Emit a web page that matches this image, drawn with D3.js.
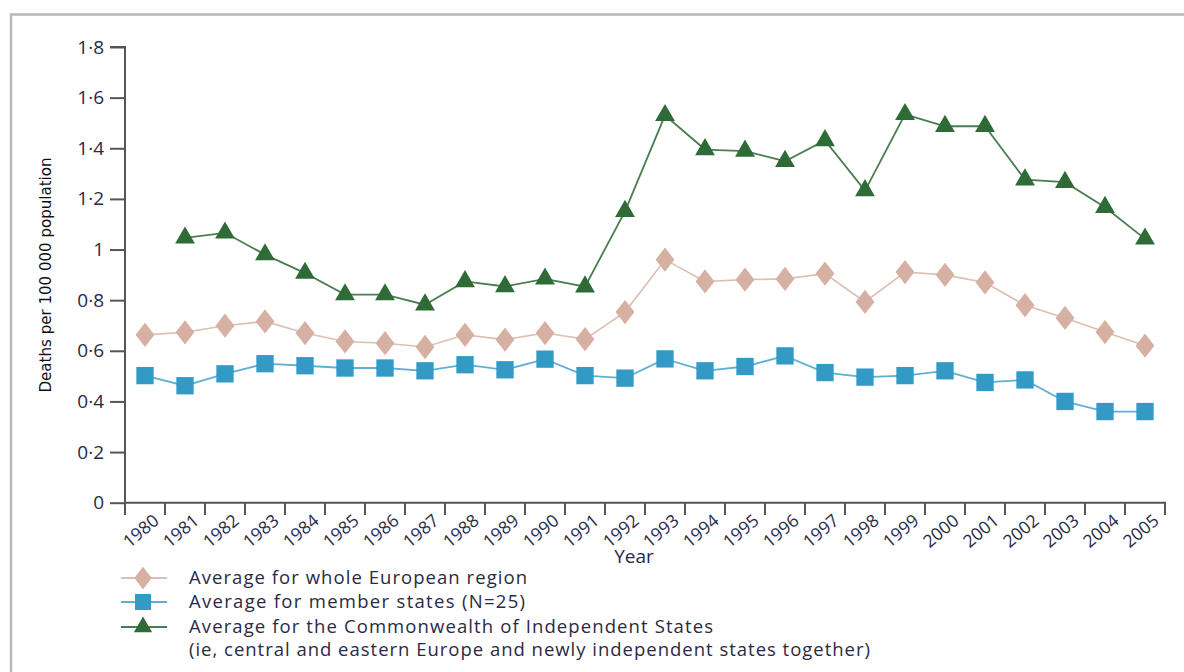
<!DOCTYPE html>
<html><head><meta charset="utf-8">
<script src="https://cdn.jsdelivr.net/npm/d3@7"></script>
<style>
body{margin:0;background:#fff;}
svg{display:block;}
text{font-family:"Open Sans","Noto Sans",sans-serif;}
</style></head>
<body><svg id="c" width="1184" height="672"></svg>
<script>
const years = ["1980","1981","1982","1983","1984","1985","1986","1987","1988","1989","1990","1991","1992","1993","1994","1995","1996","1997","1998","1999","2000","2001","2002","2003","2004","2005"];
const europe = [0.663,0.673,0.699,0.716,0.67,0.637,0.63,0.615,0.663,0.644,0.67,0.646,0.753,0.96,0.874,0.881,0.884,0.905,0.793,0.911,0.90,0.87,0.78,0.73,0.674,0.62];
const member = [0.502,0.462,0.509,0.549,0.541,0.532,0.532,0.521,0.545,0.525,0.567,0.502,0.492,0.568,0.521,0.538,0.58,0.514,0.496,0.502,0.521,0.475,0.485,0.40,0.36,0.36];
const cis = [null,1.046,1.066,0.98,0.907,0.822,0.822,0.782,0.874,0.854,0.884,0.853,1.151,1.53,1.395,1.389,1.349,1.431,1.233,1.534,1.487,1.487,1.276,1.266,1.167,1.042];
const yTicks = [0,0.2,0.4,0.6,0.8,1,1.2,1.4,1.6,1.8];
const legendLabels = ["Average for whole European region","Average for member states  (N=25)","Average for the Commonwealth of Independent States","(ie, central and eastern Europe and newly independent states together)"];

const svg = d3.select("#c");
const x = d3.scaleBand().domain(years).range([125,1165]);
const y = d3.scaleLinear().domain([0,1.8]).range([502.7,47]);
const txt = "#2a2a44";

// frame
svg.append("path").attr("d","M11,672 V14.5 H1184").attr("fill","none").attr("stroke","#b4b8bc").attr("stroke-width",2.5);

const fmt = v => v===0 ? "0" : (v===1 ? "1" : d3.format(".1f")(v).replace(".","\u00b7"));

// y axis
const ya = svg.append("g").attr("transform","translate(125,0)")
  .call(d3.axisLeft(y).tickValues(yTicks).tickSize(15).tickPadding(6).tickFormat(fmt));
ya.attr("font-size",null).attr("font-family",null);
ya.select(".domain").attr("stroke","#555").attr("stroke-width",2).attr("d","M-15,47H0V502.7");
ya.selectAll(".tick line").attr("stroke","#555").attr("stroke-width",2);
ya.selectAll(".tick text").style("font-size","19px").attr("fill",txt);

// x axis
const xa = svg.append("g").attr("transform","translate(0,502.7)")
  .call(d3.axisBottom(x).tickSize(0).tickFormat(""));
xa.select(".domain").attr("stroke","#555").attr("stroke-width",2).attr("d","M125,0H1165V12");
xa.selectAll(".tick").remove();
const bnd = years.map(d=>x(d)).concat([1165]);
svg.append("g").selectAll("line").data(bnd).join("line")
  .attr("x1",d=>d).attr("x2",d=>d).attr("y1",502.7).attr("y2",515)
  .attr("stroke","#555").attr("stroke-width",2);
svg.append("g").selectAll("text").data(years).join("text")
  .attr("transform",d=>`translate(${x(d)+x.bandwidth()/2+7},${513}) rotate(-40)`)
  .attr("text-anchor","end").attr("dy","0.72em").style("font-size","17.5px").attr("fill",txt).text(d=>d);

svg.append("text").attr("x",634).attr("y",563).attr("text-anchor","middle").style("font-size","19px").attr("fill",txt).text("Year");
svg.append("text").attr("transform","translate(51,275) rotate(-90)").attr("text-anchor","middle")
  .style("font-size","16px").style("font-family","'Liberation Sans Narrow','DejaVu Sans Condensed','Noto Sans',sans-serif")
  .attr("textLength",235).attr("lengthAdjust","spacingAndGlyphs").attr("fill","#111").text("Deaths per 100 000 population");

const cx = i => x(years[i]) + x.bandwidth()/2;
const series = [
  {vals:europe, line:"#dcbfb3", fill:"#d6b1a3", sym:d3.symbolDiamond, size:170, lw:1.6},
  {vals:member, line:"#5fb0d4", fill:"#339ac5", sym:d3.symbolSquare, size:300, lw:1.8},
  {vals:cis, line:"#4a7d50", fill:"#2e6b36", sym:d3.symbolTriangle, size:170, lw:1.8}
];
series.forEach(s=>{
  const pts = s.vals.map((v,i)=>({v,i})).filter(d=>d.v!=null);
  svg.append("path").datum(pts).attr("fill","none").attr("stroke",s.line).attr("stroke-width",s.lw)
    .attr("d",d3.line().x(d=>cx(d.i)).y(d=>y(d.v)));
  svg.append("g").selectAll("path").data(pts).join("path")
    .attr("transform",d=>`translate(${cx(d.i)},${y(d.v)})${s.sym===d3.symbolDiamond?" scale(1.35,1)":""}`)
    .attr("d",d3.symbol().type(s.sym).size(s.size)).attr("fill",s.fill);
});

// legend
const ly = [578,602,627];
series.forEach((s,i)=>{
  svg.append("line").attr("x1",121).attr("x2",167).attr("y1",ly[i]).attr("y2",ly[i]).attr("stroke",s.line).attr("stroke-width",2);
  svg.append("path").attr("transform",`translate(143,${ly[i]})${s.sym===d3.symbolDiamond?" scale(1.35,1)":""}`)
    .attr("d",d3.symbol().type(s.sym).size(s.size*0.85)).attr("fill",s.fill);
});
const lty = [578,602,627,650];
const lw = [338,336,524,681];
legendLabels.forEach((t,i)=>{
  svg.append("text").attr("x",189).attr("y",lty[i]).attr("dy","0.35em").style("font-size","18.5px").attr("fill",txt)
    .attr("textLength",lw[i]).attr("lengthAdjust","spacing").text(t);
});
</script></body></html>
